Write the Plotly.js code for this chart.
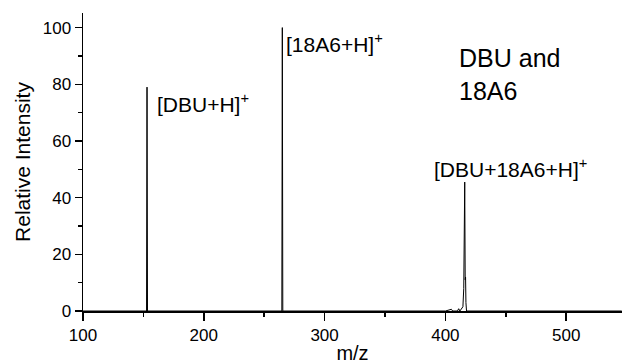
<!DOCTYPE html>
<html>
<head>
<meta charset="utf-8">
<script src="https://cdn.plot.ly/plotly-3.0.1.min.js"></script>
<style>html,body{margin:0;padding:0;background:#fff;}#chart{width:622px;height:364px;}</style>
</head>
<body>
<div id="chart"></div>
<script>
// m/z profile samples (stick spectrum)
var mz = [100, 152.6, 153.0, 153.4, 264.6, 265.0, 265.4, 400, 405, 406, 410, 411, 412, 413.5, 414.5, 415.2, 415.6, 416.0, 416.4, 416.7, 417.0, 417.5, 546];
var intensity = [0, 0, 79, 0, 0, 100, 0, 0, 0.6, 0, 0, 0.8, 0, 1.2, 1.5, 8, 24, 45.5, 11, 12, 3, 0, 0];

var peakLabels = ['[DBU+H]<sup>+</sup>', '[18A6+H]<sup>+</sup>', '[DBU+18A6+H]<sup>+</sup>'];
var peakLabelX = [159.5, 266.5, 388.5];
var peakLabelY = [73.5, 94.5, 50.5];
var sampleLabel = 'DBU and<br>18A6';
var xTitle = 'm/z';
var yTitle = 'Relative Intensity';

var FONT = 'Liberation Sans, Arial, Helvetica, sans-serif';

var trace = {
  x: mz, y: intensity, type: 'scatter', mode: 'lines',
  line: {color: '#000', width: 1}, hoverinfo: 'skip', showlegend: false
};

var annotations = peakLabels.map(function (t, i) {
  return {x: peakLabelX[i], y: peakLabelY[i], xref: 'x', yref: 'y', text: t,
    showarrow: false, xanchor: 'left', yanchor: 'middle',
    font: {family: FONT, size: 21, color: '#000'}};
});
annotations.push({x: 409.5, y: 83.5, xref: 'x', yref: 'y', text: sampleLabel, align: 'left',
  showarrow: false, xanchor: 'left', yanchor: 'middle',
  font: {family: FONT, size: 25, color: '#000'}});

var layout = {
  width: 622, height: 364,
  margin: {l: 83, r: 0, t: 13, b: 53},
  paper_bgcolor: '#fff', plot_bgcolor: '#fff',
  font: {family: FONT, color: '#000', size: 17},
  xaxis: {
    range: [100, 546.2], dtick: 100, tick0: 100, ticks: 'outside', ticklen: 8, tickwidth: 1.5,
    tickcolor: '#000', showline: true, linecolor: '#000', linewidth: 1.5, showgrid: false,
    zeroline: false, mirror: false,
    minor: {dtick: 50, tick0: 100, ticks: 'outside', ticklen: 4, tickwidth: 1.5, tickcolor: '#000'},
    tickfont: {family: FONT, size: 17},
    title: {text: xTitle, font: {family: FONT, size: 20}, standoff: 2}
  },
  yaxis: {
    range: [0, 105.15], dtick: 20, ticks: 'outside', ticklen: 7, tickwidth: 1.5,
    tickcolor: '#000', showline: true, linecolor: '#000', linewidth: 1.5, showgrid: false,
    zeroline: false,
    minor: {dtick: 10, ticks: 'outside', ticklen: 4, tickwidth: 1.5, tickcolor: '#000'},
    tickfont: {family: FONT, size: 17},
    title: {text: yTitle, font: {family: FONT, size: 21}, standoff: 6}
  },
  annotations: annotations
};

Plotly.newPlot('chart', [trace], layout, {staticPlot: true, displayModeBar: false});
</script>
</body>
</html>
